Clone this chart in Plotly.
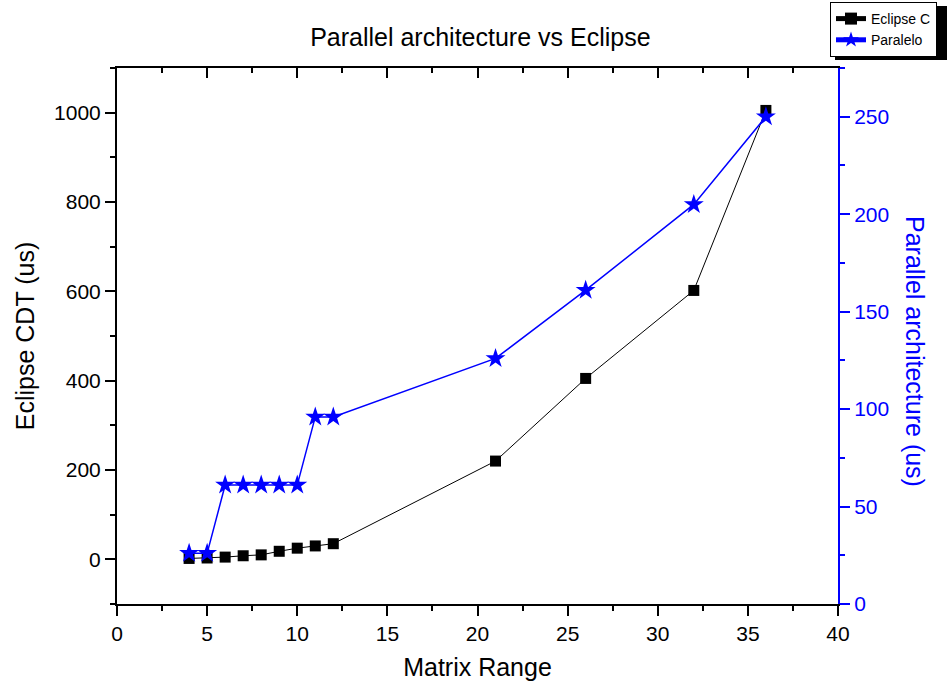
import plotly.graph_objects as go

matrix_range = [4, 5, 6, 7, 8, 9, 10, 11, 12, 21, 26, 32, 36]
eclipse_c = [2, 3, 5, 8, 10, 18, 25, 30, 35, 220, 405, 602, 1005]
paralelo = [26, 26, 61, 61, 61, 61, 61, 96, 96, 126, 161, 205, 250]

FONT = "Liberation Sans, Arial, sans-serif"
W, H = 948, 686
L, R, T, B = 117, 110, 68, 82
PW, PH = W - L - R, H - T - B

fig = go.Figure()
fig.add_trace(go.Scatter(
    x=matrix_range, y=eclipse_c, name="Eclipse C", mode="lines+markers",
    line=dict(color="black", width=1),
    marker=dict(symbol="square", size=11, color="black"),
    xaxis="x", yaxis="y"))
fig.add_trace(go.Scatter(
    x=matrix_range, y=paralelo, name="Paralelo", mode="lines+markers",
    line=dict(color="blue", width=1.5),
    marker=dict(symbol="star", size=15, color="blue"),
    xaxis="x", yaxis="y2"))
# invisible trace to realise the top axis
fig.add_trace(go.Scatter(x=[0], y=[0], mode="markers", marker=dict(opacity=0),
                         showlegend=False, hoverinfo="skip", xaxis="x2", yaxis="y"))

tickfont = dict(family=FONT, size=21, color="black")
fig.update_layout(
    width=W, height=H,
    margin=dict(l=L, r=R, t=T, b=B, autoexpand=False),
    paper_bgcolor="white", plot_bgcolor="white",
    font=dict(family=FONT, color="black"),
    title=dict(text="Parallel architecture vs Eclipse", x=(L + (W - R)) / 2 / W + 0.003, xanchor="center",
               y=1 - 37 / H, yanchor="middle", font=dict(family=FONT, size=25, color="black")),
    xaxis=dict(range=[0, 40], dtick=5, tick0=0, showgrid=False, zeroline=False,
               showline=True, linecolor="black", linewidth=2,
               ticks="outside", ticklen=10, tickwidth=2, tickcolor="black",
               minor=dict(dtick=2.5, ticks="outside", ticklen=5, tickwidth=2, tickcolor="black"),
               tickfont=tickfont,
               title=dict(text="Matrix Range", font=dict(family=FONT, size=25), standoff=14)),
    xaxis2=dict(range=[0, 40], overlaying="x", side="top", dtick=5, tick0=0,
                showgrid=False, zeroline=False, showline=True, linecolor="black", linewidth=2,
                ticks="inside", ticklen=10, tickwidth=2, tickcolor="black",
                minor=dict(dtick=2.5, ticks="inside", ticklen=5, tickwidth=2, tickcolor="black"),
                showticklabels=False),
    yaxis=dict(range=[-100, 1100], dtick=200, tick0=0, showgrid=False, zeroline=False,
               showline=True, linecolor="black", linewidth=2,
               ticks="outside", ticklen=10, tickwidth=2, tickcolor="black",
               minor=dict(dtick=100, ticks="outside", ticklen=5, tickwidth=2, tickcolor="black"),
               tickfont=tickfont,
               title=dict(text="Eclipse CDT (us)", font=dict(family=FONT, size=25), standoff=12)),
    yaxis2=dict(range=[0, 275], dtick=50, tick0=0, overlaying="y", side="right",
                showgrid=False, zeroline=False, showline=True, linecolor="blue", linewidth=2,
                ticks="outside", ticklen=10, tickwidth=2, tickcolor="blue",
                minor=dict(dtick=25, ticks="outside", ticklen=5, tickwidth=2, tickcolor="blue"),
                tickfont=dict(family=FONT, size=21, color="blue")),
    legend=dict(x=(830 - L) / PW, y=(H - B - 2) / PH, xanchor="left", yanchor="top",
                bgcolor="white", bordercolor="black", borderwidth=1,
                font=dict(family=FONT, size=14, color="black"),
                itemwidth=30, tracegroupgap=0, itemsizing="constant"),
    showlegend=True,
)
fig.add_annotation(text="Parallel architecture (us)", textangle=90,
                   xref="paper", yref="paper",
                   x=1 + (915 - (W - R)) / PW, y=(H - B - 351) / PH, xanchor="center", yanchor="middle",
                   showarrow=False, font=dict(family=FONT, size=25, color="blue"))
# legend shadow
fig.add_shape(type="rect", xref="paper", yref="paper",
              x0=(835 - L) / PW, x1=(947 - L) / PW,
              y0=(H - B - 60) / PH, y1=(H - B - 6) / PH,
              fillcolor="black", line=dict(width=0), layer="above")

fig.write_html("out.html")
